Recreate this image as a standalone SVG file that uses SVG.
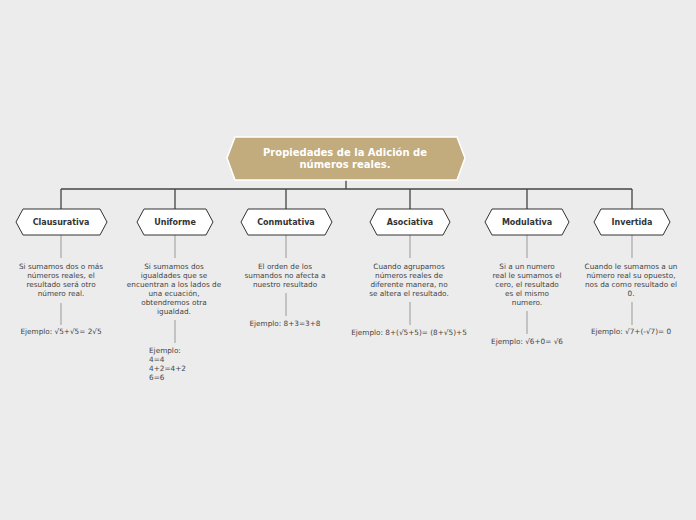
<svg xmlns="http://www.w3.org/2000/svg" width="696" height="520" viewBox="0 0 696 520">
<style>
.bg{fill:#ececec}
.main{fill:#c2ab7d;stroke:#ffffff;stroke-width:1.5}
.mt{font-family:"DejaVu Sans",Verdana,sans-serif;font-size:10px;font-weight:bold;fill:#ffffff;text-anchor:middle}
.node{fill:#ffffff;stroke:#333333;stroke-width:1}
.nt{font-family:"DejaVu Sans",Verdana,sans-serif;font-size:8px;font-weight:bold;fill:#333333;text-anchor:middle}
.conn{stroke:#444444;stroke-width:1.3;fill:none}
.sub{stroke:#999999;stroke-width:1;fill:none}
.t{font-family:"DejaVu Sans",Verdana,sans-serif;font-size:7.3px;fill:#444444;text-anchor:middle}
.tl{font-family:"DejaVu Sans",Verdana,sans-serif;font-size:7.3px;fill:#444444;text-anchor:start}
</style>
<rect class="bg" x="0" y="0" width="696" height="520"/>
<g id="connectors">
<path class="conn" d="M346 180V189M61 189H632M61 189V209M175 189V209M286 189V209M410 189V209M527 189V209M632 189V209"/>
<path class="sub" d="M61 235V258M61 303V325M175 235V258M175 320V343M286 235V258M286 293V316M410 235V258M410 302V325M527 235V258M527 311V334M632 235V258M632 302V325"/>
</g>
<g id="main">
<polygon class="main" points="227,158 235,137 457,137 465,158 457,180 235,180"/>
<text class="mt" x="345" y="156">Propiedades de la Adición de</text>
<text class="mt" x="345" y="168">números reales.</text>
</g>
<g id="clausurativa">
<polygon class="node" points="16,222 23,209 100,209 107,222 100,235 23,235"/>
<text class="nt" x="61" y="225">Clausurativa</text>
<text class="t" x="61" y="269">Si sumamos dos o más</text>
<text class="t" x="61" y="278">números reales, el</text>
<text class="t" x="61" y="287">resultado será otro</text>
<text class="t" x="61" y="296">número real.</text>
<text class="t" x="61" y="334">Ejemplo: √5+√5= 2√5</text>
</g>
<g id="uniforme">
<polygon class="node" points="137,222 144,209 206,209 213,222 206,235 144,235"/>
<text class="nt" x="175" y="225">Uniforme</text>
<text class="t" x="174" y="269">Si sumamos dos</text>
<text class="t" x="174" y="278">igualdades que se</text>
<text class="t" x="174" y="287">encuentran a los lados de</text>
<text class="t" x="174" y="296">una ecuación,</text>
<text class="t" x="174" y="305">obtendremos otra</text>
<text class="t" x="174" y="314">igualdad.</text>
<text class="tl" x="149" y="353">Ejemplo:</text>
<text class="tl" x="149" y="362">4=4</text>
<text class="tl" x="149" y="371">4+2=4+2</text>
<text class="tl" x="149" y="380">6=6</text>
</g>
<g id="conmutativa">
<polygon class="node" points="241,222 248,209 325,209 332,222 325,235 248,235"/>
<text class="nt" x="286" y="225">Conmutativa</text>
<text class="t" x="285" y="269">El orden de los</text>
<text class="t" x="285" y="278">sumandos no afecta a</text>
<text class="t" x="285" y="287">nuestro resultado</text>
<text class="t" x="285" y="326">Ejemplo: 8+3=3+8</text>
</g>
<g id="asociativa">
<polygon class="node" points="370,222 377,209 443,209 450,222 443,235 377,235"/>
<text class="nt" x="410" y="225">Asociativa</text>
<text class="t" x="409" y="269">Cuando agrupamos</text>
<text class="t" x="409" y="278">números reales de</text>
<text class="t" x="409" y="287">diferente manera, no</text>
<text class="t" x="409" y="296">se altera el resultado.</text>
<text class="t" x="409" y="335">Ejemplo: 8+(√5+5)= (8+√5)+5</text>
</g>
<g id="modulativa">
<polygon class="node" points="485,222 492,209 562,209 569,222 562,235 492,235"/>
<text class="nt" x="527" y="225">Modulativa</text>
<text class="t" x="527" y="269">Si a un numero</text>
<text class="t" x="527" y="278">real le sumamos el</text>
<text class="t" x="527" y="287">cero, el resultado</text>
<text class="t" x="527" y="296">es el mismo</text>
<text class="t" x="527" y="305">numero.</text>
<text class="t" x="527" y="344">Ejemplo: √6+0= √6</text>
</g>
<g id="invertida">
<polygon class="node" points="594,222 601,209 663,209 670,222 663,235 601,235"/>
<text class="nt" x="632" y="225">Invertida</text>
<text class="t" x="631" y="269">Cuando le sumamos a un</text>
<text class="t" x="631" y="278">número real su opuesto,</text>
<text class="t" x="631" y="287">nos da como resultado el</text>
<text class="t" x="631" y="296">0.</text>
<text class="t" x="631" y="334">Ejemplo: √7+(-√7)= 0</text>
</g>
</svg>
